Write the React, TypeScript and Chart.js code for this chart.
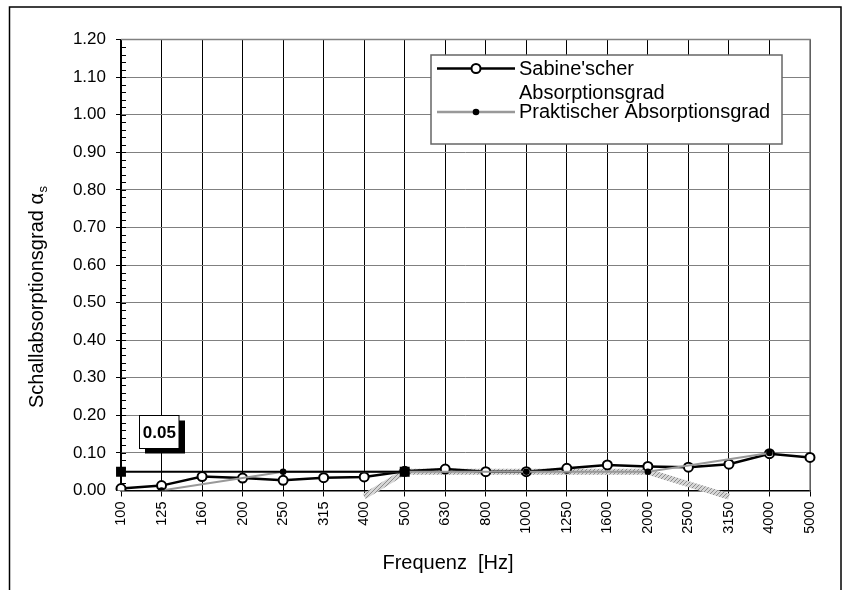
import React, { useEffect, useRef } from 'react';
import { Chart, registerables } from 'chart.js';

Chart.register(...registerables);

const frequencies = ['100', '125', '160', '200', '250', '315', '400', '500', '630', '800', '1000', '1250', '1600', '2000', '2500', '3150', '4000', '5000'];
const sabineValues = [0.005, 0.013, 0.037, 0.033, 0.027, 0.034, 0.036, 0.051, 0.057, 0.05, 0.05, 0.059, 0.068, 0.064, 0.062, 0.07, 0.098, 0.088];
const practicalValues = [null, 0.0, null, null, 0.05, null, null, 0.05, null, null, 0.05, null, null, 0.05, null, null, 0.1, null];
const markerLineValues = [0.05, null, null, null, null, null, null, 0.05, null, null, null, null, null, null, null, null, null, null];
const referenceCurveValues = [null, null, null, null, null, null, -0.016, 0.05, 0.05, 0.05, 0.05, 0.05, 0.05, 0.05, null, -0.016, null, null];
const markerLabel = '0.05';
const yMin = 0;
const yMax = 1.2;
const yStep = 0.1;
const yMinorStep = 0.02;
const legendLine1 = "Sabine'scher";
const legendLine2 = 'Absorptionsgrad';
const legendLine3 = 'Praktischer Absorptionsgrad';
const xTitle = 'Frequenz  [Hz]';
const yTitleMain = 'Schallabsorptionsgrad ';
const yTitleSymbol = 'α';
const yTitleSub = 's';

const FONT = "'Liberation Sans', Arial, Helvetica, sans-serif";

function makeHatch(): CanvasPattern | string {
  const c = document.createElement('canvas');
  c.width = 4;
  c.height = 4;
  const g = c.getContext('2d');
  if (!g) return '#bbbbbb';
  g.fillStyle = '#d6d6d6';
  g.fillRect(0, 0, 4, 4);
  g.fillStyle = '#8c8c8c';
  for (let i = 0; i < 4; i++) g.fillRect(i, 3 - i, 1, 1);
  return g.createPattern(c, 'repeat') ?? '#bbbbbb';
}

const decorPlugin = {
  id: 'decor',
  beforeDatasetsDraw(chart: any) {
    const { ctx, chartArea: a, scales } = chart;
    const y = scales.y;
    ctx.save();
    // plot area border (top / right) in gray
    ctx.strokeStyle = '#808080';
    ctx.lineWidth = 1.5;
    ctx.beginPath();
    ctx.moveTo(a.left, a.top);
    ctx.lineTo(a.right, a.top);
    ctx.lineTo(a.right, a.bottom);
    ctx.stroke();
    // minor ticks on y axis (inside)
    ctx.strokeStyle = '#000';
    ctx.lineWidth = 1;
    ctx.beginPath();
    const n = Math.round((yMax - yMin) / yMinorStep);
    for (let i = 1; i < n; i++) {
      const py = Math.round(y.getPixelForValue(yMin + i * yMinorStep)) + 0.5;
      ctx.moveTo(a.left, py);
      ctx.lineTo(a.left + 5, py);
    }
    ctx.stroke();
    ctx.restore();
  },
  afterDraw(chart: any) {
    const { ctx } = chart;
    ctx.save();
    // outer frame
    ctx.strokeStyle = '#000';
    ctx.lineWidth = 1.5;
    ctx.strokeRect(9.5, 7, 831.5, 600);

    // legend box
    ctx.fillStyle = '#fff';
    ctx.fillRect(431, 55, 351, 89);
    ctx.strokeStyle = '#666';
    ctx.lineWidth = 1.5;
    ctx.strokeRect(431, 55, 351, 89);

    // legend sample 1
    ctx.strokeStyle = '#000';
    ctx.lineWidth = 2.5;
    ctx.beginPath();
    ctx.moveTo(437, 68.5);
    ctx.lineTo(515, 68.5);
    ctx.stroke();
    ctx.beginPath();
    ctx.arc(476, 68.5, 4.5, 0, Math.PI * 2);
    ctx.fillStyle = '#fff';
    ctx.fill();
    ctx.lineWidth = 2;
    ctx.stroke();

    // legend sample 2
    ctx.strokeStyle = '#999';
    ctx.lineWidth = 2.5;
    ctx.beginPath();
    ctx.moveTo(437, 112);
    ctx.lineTo(515, 112);
    ctx.stroke();
    ctx.beginPath();
    ctx.arc(476, 112, 3.3, 0, Math.PI * 2);
    ctx.fillStyle = '#000';
    ctx.fill();

    // legend texts
    ctx.fillStyle = '#000';
    ctx.font = `20px ${FONT}`;
    ctx.textAlign = 'left';
    ctx.textBaseline = 'alphabetic';
    ctx.fillText(legendLine1, 519, 75);
    ctx.fillText(legendLine2, 519, 98.5);
    ctx.fillText(legendLine3, 519, 117.5);

    // marker label box with shadow
    ctx.fillStyle = '#000';
    ctx.fillRect(145, 420.5, 40, 33);
    ctx.fillStyle = '#fff';
    ctx.fillRect(139.5, 415.5, 39.5, 33);
    ctx.strokeStyle = '#000';
    ctx.lineWidth = 1;
    ctx.strokeRect(139.5, 415.5, 39.5, 33);
    ctx.fillStyle = '#000';
    ctx.font = `bold 17px ${FONT}`;
    ctx.textAlign = 'center';
    ctx.fillText(markerLabel, 159.3, 437.5);

    // x title
    ctx.font = `20px ${FONT}`;
    ctx.textAlign = 'center';
    ctx.fillText(xTitle, 448, 569);

    // y title with subscript
    ctx.translate(43, 408);
    ctx.rotate(-Math.PI / 2);
    ctx.textAlign = 'left';
    ctx.font = `20px ${FONT}`;
    ctx.fillText(yTitleMain, 0, 0);
    let w = ctx.measureText(yTitleMain).width;
    ctx.fillText(yTitleSymbol, w, 0);
    w += ctx.measureText(yTitleSymbol).width;
    ctx.font = `13px ${FONT}`;
    ctx.fillText(yTitleSub, w + 0.5, 4);
    ctx.restore();
  },
};

export default function App() {
  const ref = useRef<HTMLCanvasElement>(null);
  useEffect(() => {
    const canvas = ref.current;
    if (!canvas) return;
    const hatch = makeHatch();
    const chart = new Chart(canvas, {
      type: 'line',
      data: {
        labels: frequencies,
        datasets: [
          {
            label: markerLabel,
            data: markerLineValues,
            borderColor: '#000',
            borderWidth: 2,
            pointStyle: 'rect',
            pointRadius: 7,
            pointBackgroundColor: '#000',
            pointBorderColor: '#000',
            pointBorderWidth: 0,
            spanGaps: true,
            tension: 0,
          },
          {
            label: legendLine3,
            data: practicalValues,
            borderColor: '#999',
            borderWidth: 2,
            pointRadius: 3.3,
            pointBackgroundColor: '#000',
            pointBorderColor: '#000',
            pointBorderWidth: 0,
            spanGaps: true,
            tension: 0,
          },
          {
            label: legendLine1 + ' ' + legendLine2,
            data: sabineValues,
            borderColor: '#000',
            borderWidth: 2.5,
            pointRadius: 4.5,
            pointBackgroundColor: '#fff',
            pointBorderColor: '#000',
            pointBorderWidth: 2,
            tension: 0,
          },
          {
            label: 'Bezugskurve',
            data: referenceCurveValues,
            borderColor: hatch as any,
            borderWidth: 6,
            pointRadius: 0,
            spanGaps: true,
            clip: false as any,
            borderCapStyle: 'butt',
            tension: 0,
          },
        ] as any,
      },
      options: {
        responsive: true,
        maintainAspectRatio: false,
        animation: false,
        devicePixelRatio: 1,
        layout: { padding: { left: 0, right: 35, top: 39.5, bottom: 0 } },
        plugins: {
          legend: { display: false },
          tooltip: { enabled: false },
          title: { display: false },
        },
        scales: {
          x: {
            type: 'category',
            offset: false,
            grid: { color: '#000', lineWidth: 1, drawTicks: true, tickLength: 6, tickColor: '#000', offset: false },
            border: { color: '#000', width: 1.5 },
            ticks: {
              autoSkip: false,
              minRotation: 90,
              maxRotation: 90,
              padding: 5,
              color: '#000',
              font: { family: FONT, size: 14.5 },
            },
            afterFit: (s: any) => {
              s.height = 99.5;
            },
          },
          y: {
            min: yMin,
            max: yMax,
            ticks: {
              stepSize: yStep,
              callback: (v: any) => Number(v).toFixed(2),
              padding: 10,
              color: '#000',
              font: { family: FONT, size: 17 },
            },
            grid: { color: '#808080', lineWidth: 1, tickLength: 5, tickColor: '#000' },
            border: { color: '#000', width: 1.5 },
            afterFit: (s: any) => {
              s.width = 121;
            },
          },
        },
      } as any,
      plugins: [decorPlugin],
    });
    return () => chart.destroy();
  }, []);
  return (
    <div style={{ position: 'fixed', left: 0, top: 0, width: 845, height: 590, background: '#fff' }}>
      <canvas ref={ref} />
    </div>
  );
}
